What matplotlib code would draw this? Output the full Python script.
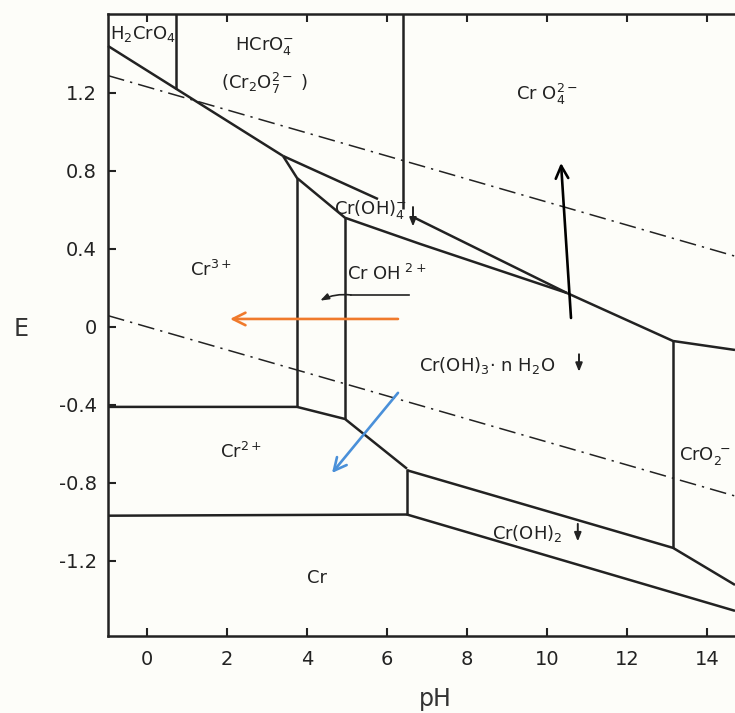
import matplotlib
matplotlib.use('Agg')
import matplotlib.pyplot as plt

# ---------------- data (pH, E in V) ----------------
xticks = [0, 2, 4, 6, 8, 10, 12, 14]
yticks = [-1.2, -0.8, -0.4, 0, 0.4, 0.8, 1.2]
ytick_labels = ['-1.2', '-0.8', '-0.4', '0', '0.4', '0.8', '1.2']

# solid phase boundaries
b_hcro4_cr3_ph = [-0.975, 3.4]
b_hcro4_cr3_e = [1.441, 0.877]
b_lower_branch_ph = [3.4, 3.75, 4.95, 6.825, 10.5]
b_lower_branch_e = [0.877, 0.764, 0.56, 0.426, 0.174]
b_upper_branch1_ph = [3.4, 5.775]
b_upper_branch1_e = [0.877, 0.656]
b_upper_branch2_ph = [6.65, 10.5]
b_upper_branch2_e = [0.564, 0.174]
b_cro4_ph = [10.5, 13.15, 14.7]
b_cro4_e = [0.174, -0.072, -0.118]
b_h2cro4_ph = [0.725, 0.725]
b_h2cro4_e = [1.605, 1.222]
b_hcro4_cro4_ph = [6.4, 6.4]
b_hcro4_cro4_e = [1.605, 0.605]
b_cr3_croh_ph = [3.75, 3.75]
b_cr3_croh_e = [0.764, -0.41]
b_croh_croh3_ph = [4.95, 4.95]
b_croh_croh3_e = [0.56, -0.472]
b_cr3_cr2_ph = [-0.975, 3.75, 4.95, 6.5]
b_cr3_cr2_e = [-0.41, -0.41, -0.472, -0.727]
b_cr2_croh2_ph = [6.5, 6.5]
b_cr2_croh2_e = [-0.727, -0.962]
b_cr2_cr_ph = [-0.975, 6.5]
b_cr2_cr_e = [-0.968, -0.962]
b_croh3_croh2_ph = [6.5, 13.15, 14.7]
b_croh3_croh2_e = [-0.735, -1.133, -1.323]
b_croh3_cro2_ph = [13.15, 13.15]
b_croh3_cro2_e = [-0.072, -1.133]
b_croh2_cr_ph = [6.5, 14.7]
b_croh2_cr_e = [-0.962, -1.456]

# water stability lines (dash-dot)
water_ph = [-0.975, 14.7]
water_o2_e = [1.289, 0.363]
water_h2_e = [0.058, -0.867]

# coloured arrows: (tail pH, tail E, head pH, head E)
arrow_black = [10.6, 0.046, 10.35, 0.841]
arrow_orange = [6.275, 0.041, 2.075, 0.041]
arrow_blue = [6.275, -0.338, 4.625, -0.749]

# region labels: text, pH, E, ha
labels = [
    ('H$_2$CrO$_4$', -0.93, 1.50, 'left'),
    ('HCrO$_4^{-}$', 2.95, 1.44, 'center'),
    ('(Cr$_2$O$_7^{2-}$ )', 2.95, 1.25, 'center'),
    ('Cr O$_4^{2-}$', 10.0, 1.19, 'center'),
    ('Cr$^{3+}$', 1.6, 0.29, 'center'),
    ('Cr(OH)$_4^{-}$', 5.6, 0.60, 'center'),
    ('Cr OH$^{\\ 2+}$', 6.0, 0.27, 'center'),
    ('Cr(OH)$_3$· n H$_2$O', 8.5, -0.20, 'center'),
    ('Cr$^{2+}$', 2.35, -0.64, 'center'),
    ('CrO$_2^{\\ -}$', 13.3, -0.66, 'left'),
    ('Cr(OH)$_2$', 9.5, -1.06, 'center'),
    ('Cr', 4.25, -1.29, 'center'),
]

# small "precipitate" arrows: pH, E top, E bottom
precip_ph = [6.65, 10.8, 10.77]
precip_top = [0.615, -0.14, -1.01]
precip_bot = [0.515, -0.23, -1.10]

# ---------------- figure ----------------
bg = '#fdfdf9'
ink = '#222222'
fig = plt.figure(figsize=(7.35, 7.13), dpi=100, facecolor=bg)
ax = fig.add_axes([108/735, 77/713, (735-108)/735, (636-14)/713], facecolor=bg)
ax.set_xlim(-0.975, 14.7)
ax.set_ylim(-1.585, 1.605)

lw = 1.8
segs = [
    (b_hcro4_cr3_ph, b_hcro4_cr3_e), (b_lower_branch_ph, b_lower_branch_e),
    (b_upper_branch1_ph, b_upper_branch1_e), (b_upper_branch2_ph, b_upper_branch2_e),
    (b_cro4_ph, b_cro4_e), (b_h2cro4_ph, b_h2cro4_e), (b_hcro4_cro4_ph, b_hcro4_cro4_e),
    (b_cr3_croh_ph, b_cr3_croh_e), (b_croh_croh3_ph, b_croh_croh3_e),
    (b_cr3_cr2_ph, b_cr3_cr2_e), (b_cr2_croh2_ph, b_cr2_croh2_e),
    (b_cr2_cr_ph, b_cr2_cr_e), (b_croh3_croh2_ph, b_croh3_croh2_e),
    (b_croh3_cro2_ph, b_croh3_cro2_e), (b_croh2_cr_ph, b_croh2_cr_e),
]
for xs, ys in segs:
    ax.plot(xs, ys, color=ink, lw=lw, solid_capstyle='butt', solid_joinstyle='miter', clip_on=False)

dd = (0, (11, 4, 1.5, 4))
ax.plot(water_ph, water_o2_e, color=ink, lw=1.1, linestyle=dd)
ax.plot(water_ph, water_h2_e, color=ink, lw=1.1, linestyle=dd)

for arr, col, lwa in [(arrow_black, 'black', 1.9), (arrow_orange, '#f07a2c', 1.9), (arrow_blue, '#4a90d9', 1.9)]:
    ax.annotate('', xy=(arr[2], arr[3]), xytext=(arr[0], arr[1]),
                arrowprops=dict(arrowstyle='->,head_length=0.9,head_width=0.45', color=col, lw=lwa,
                                shrinkA=0, shrinkB=0))

# leader arrow near CrOH2+
ax.plot([6.55, 5.1], [0.164, 0.164], color=ink, lw=1.2)
ax.annotate('', xy=(4.33, 0.135), xytext=(5.1, 0.164),
            arrowprops=dict(arrowstyle='-|>,head_length=0.5,head_width=0.18', color=ink, lw=1.2,
                            connectionstyle='arc3,rad=0.15', shrinkA=0, shrinkB=0))

for p, t, b in zip(precip_ph, precip_top, precip_bot):
    ax.annotate('', xy=(p, b), xytext=(p, t),
                arrowprops=dict(arrowstyle='-|>,head_length=0.5,head_width=0.2', color=ink, lw=1.4,
                                shrinkA=0, shrinkB=0))

for txt, px, py, ha in labels:
    ax.text(px, py, txt, ha=ha, va='center', fontsize=13, color=ink, clip_on=False)

# axes styling
for s in ['left', 'top', 'bottom']:
    ax.spines[s].set_linewidth(1.8)
    ax.spines[s].set_color(ink)
ax.spines['right'].set_visible(False)
ax.set_xticks(xticks)
ax.set_xticklabels([str(v) for v in xticks])
ax.set_yticks(yticks)
ax.set_yticklabels(ytick_labels)
ax.tick_params(direction='in', length=6, width=1.5, colors=ink, labelsize=14,
               top=True, right=False)
ax.tick_params(axis='y', pad=8)
ax.tick_params(axis='x', pad=10)

fig.text(21/735, 1 - 329/713, 'E', ha='center', va='center', fontsize=17, color='#333333')
fig.text(435/735, 1 - 699/713, 'pH', ha='center', va='center', fontsize=17, color='#333333')

fig.savefig('out.png', dpi=100, facecolor=bg)
